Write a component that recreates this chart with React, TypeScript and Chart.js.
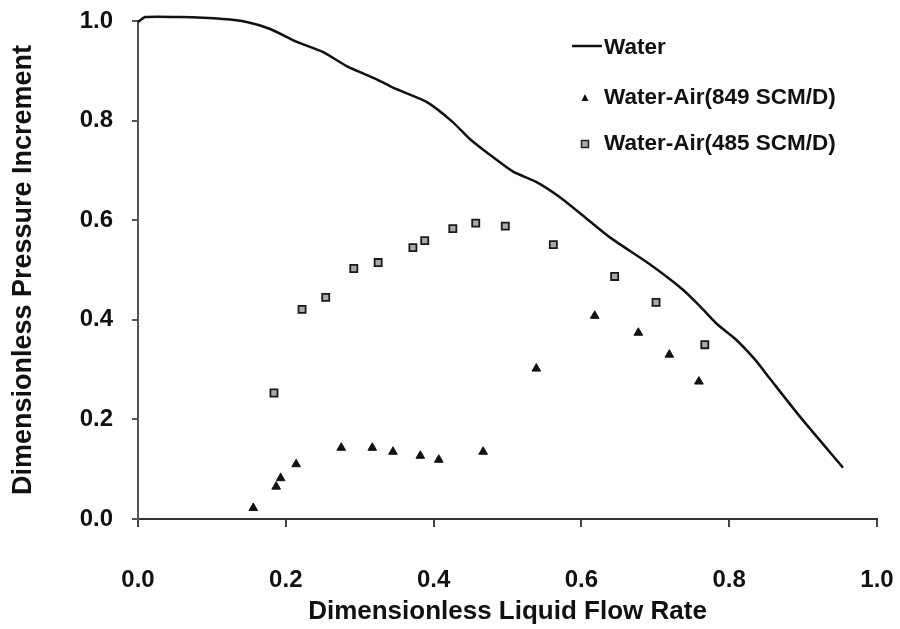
import React, { useEffect, useRef } from "react";
import { Chart, registerables } from "chart.js";

Chart.register(...registerables);

// Water (single-phase) curve
const waterX = [0, 0.01, 0.057, 0.115, 0.147, 0.179, 0.215, 0.25, 0.283, 0.323, 0.35, 0.391, 0.426, 0.449, 0.472, 0.507, 0.54, 0.571, 0.608, 0.639, 0.693, 0.737, 0.76, 0.783, 0.808, 0.835, 0.855, 0.896, 0.954];
const waterY = [0.998, 1.008, 1.008, 1.004, 0.998, 0.984, 0.958, 0.938, 0.909, 0.883, 0.863, 0.837, 0.797, 0.763, 0.736, 0.698, 0.676, 0.646, 0.602, 0.565, 0.511, 0.461, 0.428, 0.392, 0.362, 0.32, 0.282, 0.205, 0.103];

// Water-Air (849 SCM/D) - triangles
const air849X = [0.156, 0.187, 0.193, 0.214, 0.275, 0.317, 0.345, 0.382, 0.407, 0.467, 0.539, 0.618, 0.677, 0.719, 0.759];
const air849Y = [0.022, 0.065, 0.082, 0.110, 0.143, 0.143, 0.135, 0.127, 0.119, 0.135, 0.302, 0.408, 0.374, 0.330, 0.276];

// Water-Air (485 SCM/D) - squares
const air485X = [0.184, 0.222, 0.254, 0.292, 0.325, 0.372, 0.388, 0.426, 0.457, 0.497, 0.562, 0.645, 0.701, 0.767];
const air485Y = [0.253, 0.421, 0.445, 0.503, 0.515, 0.545, 0.559, 0.583, 0.594, 0.588, 0.551, 0.487, 0.435, 0.350];

const seriesLabels = ["Water", "Water-Air(849 SCM/D)", "Water-Air(485 SCM/D)"];
const xTitle = "Dimensionless Liquid Flow Rate";
const yTitle = "Dimensionless Pressure Increment";

const FONT = "'Liberation Sans', Arial, sans-serif";
const INK = "#111";

const zip = (xs: number[], ys: number[]) => xs.map((x, i) => ({ x, y: ys[i] }));

const legendPlugin = {
  id: "customLegend",
  afterDraw(chart: any) {
    const ctx = chart.ctx;
    const lx = 572;
    const tx = 604;
    const rows = [48, 98, 144];
    ctx.save();
    ctx.font = `bold 22.5px ${FONT}`;
    ctx.fillStyle = INK;
    ctx.textBaseline = "middle";
    ctx.textAlign = "left";
    ctx.strokeStyle = INK;
    ctx.lineWidth = 2.5;
    ctx.beginPath();
    ctx.moveTo(lx, rows[0] - 2);
    ctx.lineTo(lx + 30, rows[0] - 2);
    ctx.stroke();
    ctx.beginPath();
    const cx = 585;
    ctx.moveTo(cx, rows[1] - 4);
    ctx.lineTo(cx + 3.5, rows[1] + 3);
    ctx.lineTo(cx - 3.5, rows[1] + 3);
    ctx.closePath();
    ctx.fill();
    ctx.fillStyle = "#aaa";
    ctx.fillRect(cx - 3.5, rows[2] - 3.5, 7, 7);
    ctx.strokeStyle = "#222";
    ctx.lineWidth = 1.5;
    ctx.strokeRect(cx - 3.5, rows[2] - 3.5, 7, 7);
    ctx.fillStyle = INK;
    seriesLabels.forEach((t, i) => ctx.fillText(t, tx, rows[i]));
    ctx.restore();
  },
};

export default function App() {
  const ref = useRef<HTMLCanvasElement>(null);
  useEffect(() => {
    if (!ref.current) return;
    const chart = new Chart(ref.current, {
      type: "scatter",
      data: {
        datasets: [
          {
            label: seriesLabels[0],
            data: zip(waterX, waterY),
            showLine: true,
            borderColor: INK,
            borderWidth: 2.5,
            pointRadius: 0,
            tension: 0.2,
            clip: false,
          },
          {
            label: seriesLabels[1],
            data: zip(air849X, air849Y),
            pointStyle: "triangle",
            pointRadius: 5,
            backgroundColor: INK,
            borderColor: INK,
            borderWidth: 1,
          },
          {
            label: seriesLabels[2],
            data: zip(air485X, air485Y),
            pointStyle: "rect",
            pointRadius: 5,
            backgroundColor: "#aaa",
            borderColor: "#1a1a1a",
            borderWidth: 1.8,
          },
        ],
      },
      options: {
        animation: false,
        responsive: false,
        layout: { padding: { top: 21, right: 23, left: 0, bottom: 0 } },
        plugins: { legend: { display: false }, tooltip: { enabled: false } },
        scales: {
          x: {
            type: "linear",
            min: 0,
            max: 1,
            afterFit: (s: any) => {
              s.height = 110;
              s.paddingLeft = 0;
              s.paddingRight = 0;
            },
            ticks: {
              stepSize: 0.2,
              padding: 39,
              color: INK,
              font: { family: FONT, size: 24, weight: "bold" },
              callback: (v: any) => Number(v).toFixed(1),
            },
            grid: { drawOnChartArea: false, drawTicks: true, tickLength: 8, color: "#444", lineWidth: 2 },
            border: { display: true, color: "#333", width: 2 },
            title: {
              display: true,
              text: xTitle,
              color: INK,
              font: { family: FONT, size: 26, weight: "bold" },
              padding: { top: 0, bottom: 2 },
            },
          },
          y: {
            type: "linear",
            min: 0,
            max: 1,
            afterFit: (s: any) => {
              s.width = 138;
              s.paddingTop = 0;
              s.paddingBottom = 0;
            },
            ticks: {
              stepSize: 0.2,
              padding: 19,
              color: INK,
              font: { family: FONT, size: 24, weight: "bold" },
              callback: (v: any) => Number(v).toFixed(1),
            },
            grid: { drawOnChartArea: false, drawTicks: true, tickLength: 6, color: "#555", lineWidth: 2 },
            border: { display: true, color: "#555", width: 2 },
            title: {
              display: true,
              text: yTitle,
              color: INK,
              font: { family: FONT, size: 27, weight: "bold" },
              padding: { top: 7, bottom: 0 },
            },
          },
        },
      },
      plugins: [legendPlugin],
    });
    return () => chart.destroy();
  }, []);
  return (
    <div style={{ position: "absolute", left: 0, top: 0, width: 900, height: 629, background: "#fff" }}>
      <canvas ref={ref} width={900} height={629} />
    </div>
  );
}
